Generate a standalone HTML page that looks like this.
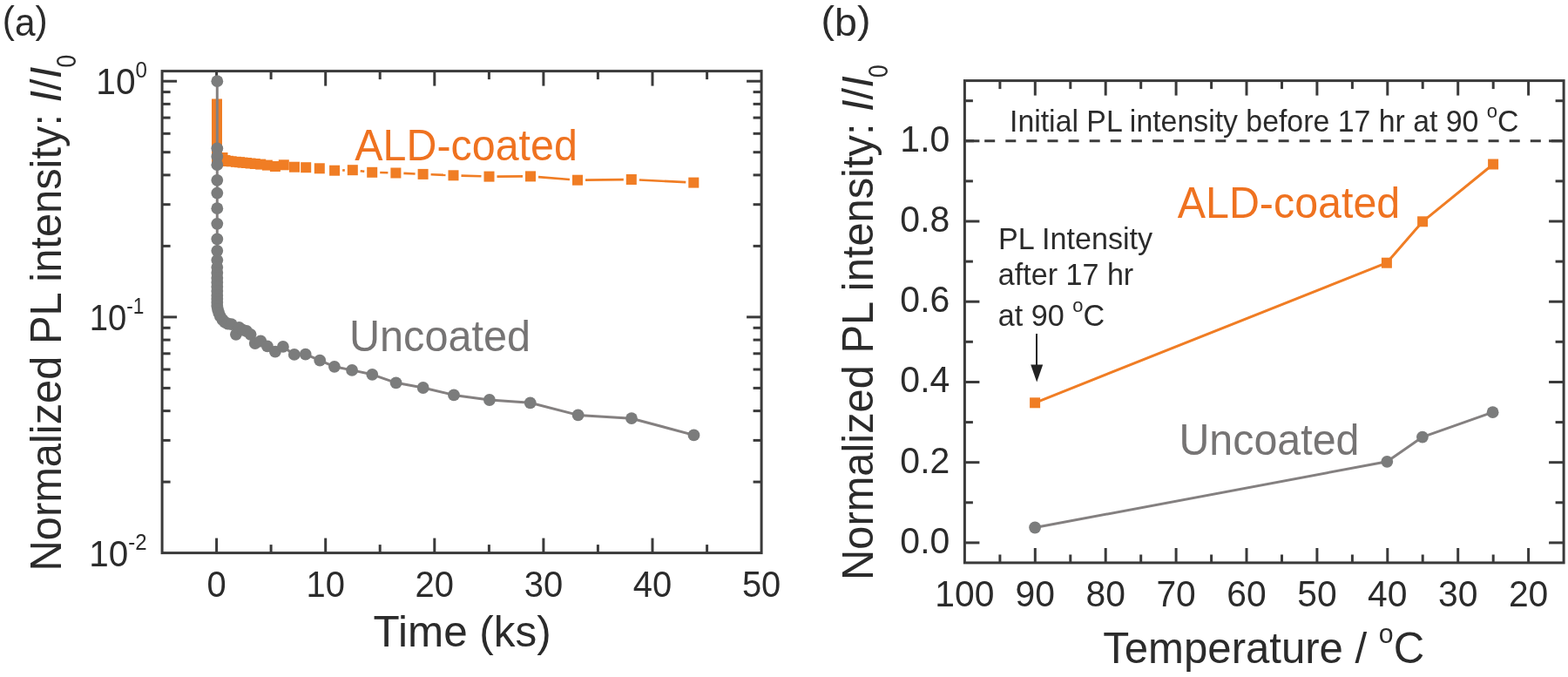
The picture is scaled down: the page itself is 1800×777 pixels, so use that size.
<!DOCTYPE html>
<html><head><meta charset="utf-8"><title>PL intensity figure</title>
<style>
html,body{margin:0;padding:0;background:#fff;}
body{width:1800px;height:777px;overflow:hidden;}
svg{display:block;}
</style></head>
<body>
<svg width="1800" height="777" viewBox="0 0 1800 777">
<rect width="1800" height="777" fill="#fff"/>
<g stroke="#3A3A3A" stroke-width="3.0">
<line x1="248.6" y1="634.6" x2="248.6" y2="617.6"/>
<line x1="248.6" y1="81.6" x2="248.6" y2="98.6"/>
<line x1="311.1" y1="634.6" x2="311.1" y2="625.1"/>
<line x1="311.1" y1="81.6" x2="311.1" y2="91.1"/>
<line x1="373.7" y1="634.6" x2="373.7" y2="617.6"/>
<line x1="373.7" y1="81.6" x2="373.7" y2="98.6"/>
<line x1="436.2" y1="634.6" x2="436.2" y2="625.1"/>
<line x1="436.2" y1="81.6" x2="436.2" y2="91.1"/>
<line x1="498.8" y1="634.6" x2="498.8" y2="617.6"/>
<line x1="498.8" y1="81.6" x2="498.8" y2="98.6"/>
<line x1="561.4" y1="634.6" x2="561.4" y2="625.1"/>
<line x1="561.4" y1="81.6" x2="561.4" y2="91.1"/>
<line x1="623.9" y1="634.6" x2="623.9" y2="617.6"/>
<line x1="623.9" y1="81.6" x2="623.9" y2="98.6"/>
<line x1="686.4" y1="634.6" x2="686.4" y2="625.1"/>
<line x1="686.4" y1="81.6" x2="686.4" y2="91.1"/>
<line x1="749.0" y1="634.6" x2="749.0" y2="617.6"/>
<line x1="749.0" y1="81.6" x2="749.0" y2="98.6"/>
<line x1="811.6" y1="634.6" x2="811.6" y2="625.1"/>
<line x1="811.6" y1="81.6" x2="811.6" y2="91.1"/>
<line x1="186.1" y1="553.1" x2="195.6" y2="553.1"/>
<line x1="874.1" y1="553.1" x2="864.6" y2="553.1"/>
<line x1="186.1" y1="505.4" x2="195.6" y2="505.4"/>
<line x1="874.1" y1="505.4" x2="864.6" y2="505.4"/>
<line x1="186.1" y1="471.6" x2="195.6" y2="471.6"/>
<line x1="874.1" y1="471.6" x2="864.6" y2="471.6"/>
<line x1="186.1" y1="445.4" x2="195.6" y2="445.4"/>
<line x1="874.1" y1="445.4" x2="864.6" y2="445.4"/>
<line x1="186.1" y1="424.0" x2="195.6" y2="424.0"/>
<line x1="874.1" y1="424.0" x2="864.6" y2="424.0"/>
<line x1="186.1" y1="405.8" x2="195.6" y2="405.8"/>
<line x1="874.1" y1="405.8" x2="864.6" y2="405.8"/>
<line x1="186.1" y1="390.1" x2="195.6" y2="390.1"/>
<line x1="874.1" y1="390.1" x2="864.6" y2="390.1"/>
<line x1="186.1" y1="376.3" x2="195.6" y2="376.3"/>
<line x1="874.1" y1="376.3" x2="864.6" y2="376.3"/>
<line x1="186.1" y1="363.9" x2="203.1" y2="363.9"/>
<line x1="874.1" y1="363.9" x2="857.1" y2="363.9"/>
<line x1="186.1" y1="282.4" x2="195.6" y2="282.4"/>
<line x1="874.1" y1="282.4" x2="864.6" y2="282.4"/>
<line x1="186.1" y1="234.7" x2="195.6" y2="234.7"/>
<line x1="874.1" y1="234.7" x2="864.6" y2="234.7"/>
<line x1="186.1" y1="200.9" x2="195.6" y2="200.9"/>
<line x1="874.1" y1="200.9" x2="864.6" y2="200.9"/>
<line x1="186.1" y1="174.7" x2="195.6" y2="174.7"/>
<line x1="874.1" y1="174.7" x2="864.6" y2="174.7"/>
<line x1="186.1" y1="153.3" x2="195.6" y2="153.3"/>
<line x1="874.1" y1="153.3" x2="864.6" y2="153.3"/>
<line x1="186.1" y1="135.1" x2="195.6" y2="135.1"/>
<line x1="874.1" y1="135.1" x2="864.6" y2="135.1"/>
<line x1="186.1" y1="119.4" x2="195.6" y2="119.4"/>
<line x1="874.1" y1="119.4" x2="864.6" y2="119.4"/>
<line x1="186.1" y1="105.6" x2="195.6" y2="105.6"/>
<line x1="874.1" y1="105.6" x2="864.6" y2="105.6"/>
<line x1="186.1" y1="93.2" x2="203.1" y2="93.2"/>
<line x1="874.1" y1="93.2" x2="857.1" y2="93.2"/>
<line x1="1754.6" y1="646.0" x2="1754.6" y2="629.0"/>
<line x1="1754.6" y1="92.6" x2="1754.6" y2="109.6"/>
<line x1="1714.2" y1="646.0" x2="1714.2" y2="636.5"/>
<line x1="1714.2" y1="92.6" x2="1714.2" y2="102.1"/>
<line x1="1673.7" y1="646.0" x2="1673.7" y2="629.0"/>
<line x1="1673.7" y1="92.6" x2="1673.7" y2="109.6"/>
<line x1="1633.2" y1="646.0" x2="1633.2" y2="636.5"/>
<line x1="1633.2" y1="92.6" x2="1633.2" y2="102.1"/>
<line x1="1592.8" y1="646.0" x2="1592.8" y2="629.0"/>
<line x1="1592.8" y1="92.6" x2="1592.8" y2="109.6"/>
<line x1="1552.4" y1="646.0" x2="1552.4" y2="636.5"/>
<line x1="1552.4" y1="92.6" x2="1552.4" y2="102.1"/>
<line x1="1511.9" y1="646.0" x2="1511.9" y2="629.0"/>
<line x1="1511.9" y1="92.6" x2="1511.9" y2="109.6"/>
<line x1="1471.5" y1="646.0" x2="1471.5" y2="636.5"/>
<line x1="1471.5" y1="92.6" x2="1471.5" y2="102.1"/>
<line x1="1431.0" y1="646.0" x2="1431.0" y2="629.0"/>
<line x1="1431.0" y1="92.6" x2="1431.0" y2="109.6"/>
<line x1="1390.6" y1="646.0" x2="1390.6" y2="636.5"/>
<line x1="1390.6" y1="92.6" x2="1390.6" y2="102.1"/>
<line x1="1350.1" y1="646.0" x2="1350.1" y2="629.0"/>
<line x1="1350.1" y1="92.6" x2="1350.1" y2="109.6"/>
<line x1="1309.7" y1="646.0" x2="1309.7" y2="636.5"/>
<line x1="1309.7" y1="92.6" x2="1309.7" y2="102.1"/>
<line x1="1269.2" y1="646.0" x2="1269.2" y2="629.0"/>
<line x1="1269.2" y1="92.6" x2="1269.2" y2="109.6"/>
<line x1="1228.8" y1="646.0" x2="1228.8" y2="636.5"/>
<line x1="1228.8" y1="92.6" x2="1228.8" y2="102.1"/>
<line x1="1188.3" y1="646.0" x2="1188.3" y2="629.0"/>
<line x1="1188.3" y1="92.6" x2="1188.3" y2="109.6"/>
<line x1="1147.9" y1="646.0" x2="1147.9" y2="636.5"/>
<line x1="1147.9" y1="92.6" x2="1147.9" y2="102.1"/>
<line x1="1107.4" y1="622.9" x2="1124.4" y2="622.9"/>
<line x1="1795.1" y1="622.9" x2="1778.1" y2="622.9"/>
<line x1="1107.4" y1="576.8" x2="1116.9" y2="576.8"/>
<line x1="1795.1" y1="576.8" x2="1785.6" y2="576.8"/>
<line x1="1107.4" y1="530.7" x2="1124.4" y2="530.7"/>
<line x1="1795.1" y1="530.7" x2="1778.1" y2="530.7"/>
<line x1="1107.4" y1="484.6" x2="1116.9" y2="484.6"/>
<line x1="1795.1" y1="484.6" x2="1785.6" y2="484.6"/>
<line x1="1107.4" y1="438.5" x2="1124.4" y2="438.5"/>
<line x1="1795.1" y1="438.5" x2="1778.1" y2="438.5"/>
<line x1="1107.4" y1="392.3" x2="1116.9" y2="392.3"/>
<line x1="1795.1" y1="392.3" x2="1785.6" y2="392.3"/>
<line x1="1107.4" y1="346.2" x2="1124.4" y2="346.2"/>
<line x1="1795.1" y1="346.2" x2="1778.1" y2="346.2"/>
<line x1="1107.4" y1="300.1" x2="1116.9" y2="300.1"/>
<line x1="1795.1" y1="300.1" x2="1785.6" y2="300.1"/>
<line x1="1107.4" y1="254.0" x2="1124.4" y2="254.0"/>
<line x1="1795.1" y1="254.0" x2="1778.1" y2="254.0"/>
<line x1="1107.4" y1="207.9" x2="1116.9" y2="207.9"/>
<line x1="1795.1" y1="207.9" x2="1785.6" y2="207.9"/>
<line x1="1107.4" y1="161.8" x2="1124.4" y2="161.8"/>
<line x1="1795.1" y1="161.8" x2="1778.1" y2="161.8"/>
<line x1="1107.4" y1="115.7" x2="1116.9" y2="115.7"/>
<line x1="1795.1" y1="115.7" x2="1785.6" y2="115.7"/>
</g>
<rect x="186.1" y="81.6" width="688.0" height="553.0" fill="none" stroke="#3A3A3A" stroke-width="3.0"/>
<rect x="1107.4" y="92.6" width="687.7" height="553.3" fill="none" stroke="#3A3A3A" stroke-width="3.0"/>
<line x1="1107.4" y1="161.8" x2="1795.1" y2="161.8" stroke="#3A3A3A" stroke-width="3" stroke-dasharray="12 12.1" stroke-dashoffset="1.3"/>
<polyline points="249.0,119.5 249.0,125.0 249.0,131.0 249.0,137.0 249.0,143.0 249.0,149.0 249.0,155.0 249.0,161.0 249.0,167.0 249.0,173.0 249.0,178.0 249.0,182.0 255.5,181.0 255.5,185.0 258.5,184.0 262.0,184.8" fill="none" stroke="#F07D24" stroke-width="3" stroke-linejoin="round"/>
<line x1="393.1" y1="195.5" x2="395.8" y2="195.4" stroke="#F07D24" stroke-width="2.6"/>
<line x1="413.7" y1="196.2" x2="418.3" y2="196.8" stroke="#F07D24" stroke-width="2.6"/>
<line x1="436.2" y1="198.0" x2="445.4" y2="198.3" stroke="#F07D24" stroke-width="2.6"/>
<line x1="463.4" y1="198.9" x2="476.6" y2="199.5" stroke="#F07D24" stroke-width="2.6"/>
<line x1="494.6" y1="200.3" x2="511.5" y2="200.9" stroke="#F07D24" stroke-width="2.6"/>
<line x1="529.5" y1="201.6" x2="552.5" y2="202.3" stroke="#F07D24" stroke-width="2.6"/>
<line x1="570.5" y1="202.6" x2="600.0" y2="202.4" stroke="#F07D24" stroke-width="2.6"/>
<line x1="618.0" y1="203.1" x2="654.0" y2="206.0" stroke="#F07D24" stroke-width="2.6"/>
<line x1="672.0" y1="206.6" x2="715.8" y2="206.1" stroke="#F07D24" stroke-width="2.6"/>
<line x1="733.8" y1="206.5" x2="787.3" y2="209.1" stroke="#F07D24" stroke-width="2.6"/>
<rect x="243.0" y="113.5" width="12" height="12" fill="#F07D24"/>
<rect x="243.0" y="119.0" width="12" height="12" fill="#F07D24"/>
<rect x="243.0" y="125.0" width="12" height="12" fill="#F07D24"/>
<rect x="243.0" y="131.0" width="12" height="12" fill="#F07D24"/>
<rect x="243.0" y="137.0" width="12" height="12" fill="#F07D24"/>
<rect x="243.0" y="143.0" width="12" height="12" fill="#F07D24"/>
<rect x="243.0" y="149.0" width="12" height="12" fill="#F07D24"/>
<rect x="243.0" y="155.0" width="12" height="12" fill="#F07D24"/>
<rect x="243.0" y="161.0" width="12" height="12" fill="#F07D24"/>
<rect x="243.0" y="167.0" width="12" height="12" fill="#F07D24"/>
<rect x="243.0" y="172.0" width="12" height="12" fill="#F07D24"/>
<rect x="243.0" y="176.0" width="12" height="12" fill="#F07D24"/>
<rect x="249.5" y="175.0" width="12" height="12" fill="#F07D24"/>
<rect x="249.5" y="179.0" width="12" height="12" fill="#F07D24"/>
<rect x="252.5" y="178.0" width="12" height="12" fill="#F07D24"/>
<rect x="256.0" y="178.8" width="12" height="12" fill="#F07D24"/>
<rect x="259.7" y="179.3" width="12" height="12" fill="#F07D24"/>
<rect x="264.9" y="179.8" width="12" height="12" fill="#F07D24"/>
<rect x="269.0" y="180.2" width="12" height="12" fill="#F07D24"/>
<rect x="272.6" y="180.6" width="12" height="12" fill="#F07D24"/>
<rect x="277.0" y="181.0" width="12" height="12" fill="#F07D24"/>
<rect x="281.6" y="181.5" width="12" height="12" fill="#F07D24"/>
<rect x="286.8" y="182.0" width="12" height="12" fill="#F07D24"/>
<rect x="293.2" y="182.6" width="12" height="12" fill="#F07D24"/>
<rect x="300.9" y="183.6" width="12" height="12" fill="#F07D24"/>
<rect x="309.9" y="185.0" width="12" height="12" fill="#F07D24"/>
<rect x="319.8" y="183.3" width="12" height="12" fill="#F07D24"/>
<rect x="332.0" y="185.7" width="12" height="12" fill="#F07D24"/>
<rect x="345.2" y="186.2" width="12" height="12" fill="#F07D24"/>
<rect x="360.8" y="187.3" width="12" height="12" fill="#F07D24"/>
<rect x="378.1" y="189.7" width="12" height="12" fill="#F07D24"/>
<rect x="398.8" y="189.2" width="12" height="12" fill="#F07D24"/>
<rect x="421.2" y="191.8" width="12" height="12" fill="#F07D24"/>
<rect x="448.4" y="192.5" width="12" height="12" fill="#F07D24"/>
<rect x="479.6" y="193.9" width="12" height="12" fill="#F07D24"/>
<rect x="514.5" y="195.3" width="12" height="12" fill="#F07D24"/>
<rect x="555.5" y="196.6" width="12" height="12" fill="#F07D24"/>
<rect x="603.0" y="196.4" width="12" height="12" fill="#F07D24"/>
<rect x="657.0" y="200.7" width="12" height="12" fill="#F07D24"/>
<rect x="718.8" y="200.0" width="12" height="12" fill="#F07D24"/>
<rect x="790.3" y="203.6" width="12" height="12" fill="#F07D24"/>
<polyline points="249.3,93.2 249.3,170.3 249.3,179.7 249.3,189.2 249.3,206.8 249.3,221.6 249.3,239.2 249.3,256.8 249.3,274.3 249.3,287.8 249.3,298.6 249.3,306.8 249.3,313.0 249.3,319.0 249.3,324.0 249.3,329.0 249.3,334.0 249.3,339.0 249.3,343.0 249.3,347.0 249.3,351.0 250.0,355.0 251.2,359.0 252.9,363.2 255.5,367.0 258.0,369.6 261.5,371.5 265.7,372.2 270.9,383.8 274.5,376.0 278.6,378.6 283.0,380.0 287.6,383.8 292.8,394.0 299.2,391.5 306.9,397.3 315.9,403.7 324.9,397.9 337.8,406.9 350.7,406.7 367.2,413.7 383.9,420.8 404.1,424.9 427.3,429.8 454.6,439.3 485.7,445.0 521.0,453.4 561.9,459.0 608.7,462.3 663.6,476.4 725.0,480.2 796.5,499.4" fill="none" stroke="#848080" stroke-width="3" stroke-linejoin="round"/>
<circle cx="249.3" cy="93.2" r="6.9" fill="#7B7C7C"/>
<circle cx="249.3" cy="170.3" r="6.9" fill="#7B7C7C"/>
<circle cx="249.3" cy="179.7" r="6.9" fill="#7B7C7C"/>
<circle cx="249.3" cy="189.2" r="6.9" fill="#7B7C7C"/>
<circle cx="249.3" cy="206.8" r="6.9" fill="#7B7C7C"/>
<circle cx="249.3" cy="221.6" r="6.9" fill="#7B7C7C"/>
<circle cx="249.3" cy="239.2" r="6.9" fill="#7B7C7C"/>
<circle cx="249.3" cy="256.8" r="6.9" fill="#7B7C7C"/>
<circle cx="249.3" cy="274.3" r="6.9" fill="#7B7C7C"/>
<circle cx="249.3" cy="287.8" r="6.9" fill="#7B7C7C"/>
<circle cx="249.3" cy="298.6" r="6.9" fill="#7B7C7C"/>
<circle cx="249.3" cy="306.8" r="6.9" fill="#7B7C7C"/>
<circle cx="249.3" cy="313.0" r="6.9" fill="#7B7C7C"/>
<circle cx="249.3" cy="319.0" r="6.9" fill="#7B7C7C"/>
<circle cx="249.3" cy="324.0" r="6.9" fill="#7B7C7C"/>
<circle cx="249.3" cy="329.0" r="6.9" fill="#7B7C7C"/>
<circle cx="249.3" cy="334.0" r="6.9" fill="#7B7C7C"/>
<circle cx="249.3" cy="339.0" r="6.9" fill="#7B7C7C"/>
<circle cx="249.3" cy="343.0" r="6.9" fill="#7B7C7C"/>
<circle cx="249.3" cy="347.0" r="6.9" fill="#7B7C7C"/>
<circle cx="249.3" cy="351.0" r="6.9" fill="#7B7C7C"/>
<circle cx="250.0" cy="355.0" r="6.9" fill="#7B7C7C"/>
<circle cx="251.2" cy="359.0" r="6.9" fill="#7B7C7C"/>
<circle cx="252.9" cy="363.2" r="6.9" fill="#7B7C7C"/>
<circle cx="255.5" cy="367.0" r="6.9" fill="#7B7C7C"/>
<circle cx="258.0" cy="369.6" r="6.9" fill="#7B7C7C"/>
<circle cx="261.5" cy="371.5" r="6.9" fill="#7B7C7C"/>
<circle cx="265.7" cy="372.2" r="6.9" fill="#7B7C7C"/>
<circle cx="270.9" cy="383.8" r="6.9" fill="#7B7C7C"/>
<circle cx="274.5" cy="376.0" r="6.9" fill="#7B7C7C"/>
<circle cx="278.6" cy="378.6" r="6.9" fill="#7B7C7C"/>
<circle cx="283.0" cy="380.0" r="6.9" fill="#7B7C7C"/>
<circle cx="287.6" cy="383.8" r="6.9" fill="#7B7C7C"/>
<circle cx="292.8" cy="394.0" r="6.9" fill="#7B7C7C"/>
<circle cx="299.2" cy="391.5" r="6.9" fill="#7B7C7C"/>
<circle cx="306.9" cy="397.3" r="6.9" fill="#7B7C7C"/>
<circle cx="315.9" cy="403.7" r="6.9" fill="#7B7C7C"/>
<circle cx="324.9" cy="397.9" r="6.9" fill="#7B7C7C"/>
<circle cx="337.8" cy="406.9" r="6.9" fill="#7B7C7C"/>
<circle cx="350.7" cy="406.7" r="6.9" fill="#7B7C7C"/>
<circle cx="367.2" cy="413.7" r="6.9" fill="#7B7C7C"/>
<circle cx="383.9" cy="420.8" r="6.9" fill="#7B7C7C"/>
<circle cx="404.1" cy="424.9" r="6.9" fill="#7B7C7C"/>
<circle cx="427.3" cy="429.8" r="6.9" fill="#7B7C7C"/>
<circle cx="454.6" cy="439.3" r="6.9" fill="#7B7C7C"/>
<circle cx="485.7" cy="445.0" r="6.9" fill="#7B7C7C"/>
<circle cx="521.0" cy="453.4" r="6.9" fill="#7B7C7C"/>
<circle cx="561.9" cy="459.0" r="6.9" fill="#7B7C7C"/>
<circle cx="608.7" cy="462.3" r="6.9" fill="#7B7C7C"/>
<circle cx="663.6" cy="476.4" r="6.9" fill="#7B7C7C"/>
<circle cx="725.0" cy="480.2" r="6.9" fill="#7B7C7C"/>
<circle cx="796.5" cy="499.4" r="6.9" fill="#7B7C7C"/>
<polyline points="1188.1,462.3 1591.9,301.7 1633.1,254.3 1714.1,188.5" fill="none" stroke="#F07D24" stroke-width="3" stroke-linejoin="round"/>
<rect x="1182.1" y="456.3" width="12" height="12" fill="#F07D24"/>
<rect x="1585.9" y="295.7" width="12" height="12" fill="#F07D24"/>
<rect x="1627.1" y="248.3" width="12" height="12" fill="#F07D24"/>
<rect x="1708.1" y="182.5" width="12" height="12" fill="#F07D24"/>
<polyline points="1188.1,605.5 1592.3,529.8 1632.9,501.6 1713.6,473.2" fill="none" stroke="#848080" stroke-width="3" stroke-linejoin="round"/>
<circle cx="1188.1" cy="605.5" r="6.9" fill="#7B7C7C"/>
<circle cx="1592.3" cy="529.8" r="6.9" fill="#7B7C7C"/>
<circle cx="1632.9" cy="501.6" r="6.9" fill="#7B7C7C"/>
<circle cx="1713.6" cy="473.2" r="6.9" fill="#7B7C7C"/>
<line x1="1190" y1="383" x2="1190" y2="422" stroke="#222" stroke-width="2"/>
<polygon points="1183.2,418.6 1197.2,418.6 1190.2,438.4" fill="#222"/>
<g font-family="'Liberation Sans', sans-serif">
<text transform="translate(2.84,37.80) scale(0.9531,1)" font-size="44.5" fill="#2B2B2B">(<tspan dy="2.7">a</tspan><tspan dy="-2.7">)</tspan></text>
<text transform="translate(942.46,37.80) scale(1.0469,1)" font-size="44.5" fill="#2B2B2B">(<tspan dy="2.7">b</tspan><tspan dy="-2.7">)</tspan></text>
<text transform="translate(110.26,108.00) scale(0.9466,1)" font-size="43" fill="#2B2B2B">10<tspan font-size="25.5" dy="-19.5">0</tspan></text>
<text transform="translate(102.73,379.00) scale(0.8894,1)" font-size="43" fill="#2B2B2B">10<tspan font-size="25.5" dy="-19.5">-1</tspan></text>
<text transform="translate(102.28,650.20) scale(0.9409,1)" font-size="43" fill="#2B2B2B">10<tspan font-size="25.5" dy="-19.5">-2</tspan></text>
<text transform="translate(428.61,741.80) scale(0.9852,1)" font-size="50.2" fill="#2B2B2B">Time (ks)</text>
<text transform="translate(1266.23,761.30) scale(0.9747,1)" font-size="50.4" fill="#2B2B2B">Temperature / <tspan font-size="31" dy="-23.3">o</tspan><tspan dy="23.3">C</tspan></text>
<text transform="translate(407.30,183.80) scale(0.9719,1)" font-size="49.8" fill="#EF7220">ALD-coated</text>
<text transform="translate(1351.70,250.30) scale(0.9719,1)" font-size="49.8" fill="#EF7220">ALD-coated</text>
<text transform="translate(400.93,403.30) scale(0.9673,1)" font-size="50.3" fill="#767474">Uncoated</text>
<text transform="translate(1353.45,522.00) scale(0.9615,1)" font-size="50.3" fill="#767474">Uncoated</text>
<text transform="translate(1159.00,151.30) scale(0.9670,1)" font-size="35" fill="#2B2B2B">Initial PL intensity before 17 hr at 90 <tspan font-size="22.8" dy="-16">o</tspan><tspan dy="16">C</tspan></text>
<text transform="translate(1146.07,285.70) scale(0.9753,1)" font-size="35" fill="#2B2B2B">PL Intensity</text>
<text transform="translate(1145.75,327.30) scale(0.9752,1)" font-size="35" fill="#2B2B2B">after 17 hr</text>
<text transform="translate(1145.75,373.80) scale(0.9760,1)" font-size="35" fill="#2B2B2B">at 90 <tspan font-size="22.5" dy="-16.1">o</tspan><tspan dy="16.1">C</tspan></text>
<text transform="translate(69.90,655.46) rotate(-90) scale(0.9649,1)" font-size="50.6" fill="#2B2B2B">Normalized PL intensity: <tspan font-style="italic">I</tspan>/<tspan font-style="italic">I</tspan></text>
<text transform="translate(86.90,77.47) rotate(-90) scale(0.8667,1)" font-size="30.5" fill="#2B2B2B">0</text>
<text transform="translate(1001.90,665.96) rotate(-90) scale(0.9649,1)" font-size="50.6" fill="#2B2B2B">Normalized PL intensity: <tspan font-style="italic">I</tspan>/<tspan font-style="italic">I</tspan></text>
<text transform="translate(1018.90,88.97) rotate(-90) scale(0.8667,1)" font-size="30.5" fill="#2B2B2B">0</text>
<text transform="translate(248.60,685.0) scale(0.9349,1)" font-size="42.7" text-anchor="middle" fill="#2B2B2B">0</text>
<text transform="translate(373.70,685.0) scale(0.9349,1)" font-size="42.7" text-anchor="middle" fill="#2B2B2B">10</text>
<text transform="translate(498.80,685.0) scale(0.9349,1)" font-size="42.7" text-anchor="middle" fill="#2B2B2B">20</text>
<text transform="translate(623.90,685.0) scale(0.9349,1)" font-size="42.7" text-anchor="middle" fill="#2B2B2B">30</text>
<text transform="translate(749.00,685.0) scale(0.9349,1)" font-size="42.7" text-anchor="middle" fill="#2B2B2B">40</text>
<text transform="translate(874.10,685.0) scale(0.9349,1)" font-size="42.7" text-anchor="middle" fill="#2B2B2B">50</text>
<text transform="translate(1754.60,695.8) scale(0.9721,1)" font-size="42.0" text-anchor="middle" fill="#2B2B2B">20</text>
<text transform="translate(1673.70,695.8) scale(0.9721,1)" font-size="42.0" text-anchor="middle" fill="#2B2B2B">30</text>
<text transform="translate(1592.80,695.8) scale(0.9721,1)" font-size="42.0" text-anchor="middle" fill="#2B2B2B">40</text>
<text transform="translate(1511.90,695.8) scale(0.9721,1)" font-size="42.0" text-anchor="middle" fill="#2B2B2B">50</text>
<text transform="translate(1431.00,695.8) scale(0.9721,1)" font-size="42.0" text-anchor="middle" fill="#2B2B2B">60</text>
<text transform="translate(1350.10,695.8) scale(0.9721,1)" font-size="42.0" text-anchor="middle" fill="#2B2B2B">70</text>
<text transform="translate(1269.20,695.8) scale(0.9721,1)" font-size="42.0" text-anchor="middle" fill="#2B2B2B">80</text>
<text transform="translate(1188.30,695.8) scale(0.9721,1)" font-size="42.0" text-anchor="middle" fill="#2B2B2B">90</text>
<text transform="translate(1107.40,695.8) scale(0.9721,1)" font-size="42.0" text-anchor="middle" fill="#2B2B2B">100</text>
<text transform="translate(1090.31,634.90) scale(0.9704,1)" font-size="42.2" text-anchor="end" fill="#2B2B2B">0.0</text>
<text transform="translate(1090.31,542.68) scale(0.9704,1)" font-size="42.2" text-anchor="end" fill="#2B2B2B">0.2</text>
<text transform="translate(1090.31,450.46) scale(0.9704,1)" font-size="42.2" text-anchor="end" fill="#2B2B2B">0.4</text>
<text transform="translate(1090.31,358.24) scale(0.9704,1)" font-size="42.2" text-anchor="end" fill="#2B2B2B">0.6</text>
<text transform="translate(1090.31,266.02) scale(0.9704,1)" font-size="42.2" text-anchor="end" fill="#2B2B2B">0.8</text>
<text transform="translate(1090.31,173.80) scale(0.9704,1)" font-size="42.2" text-anchor="end" fill="#2B2B2B">1.0</text>
</g>
</svg>
</body></html>
